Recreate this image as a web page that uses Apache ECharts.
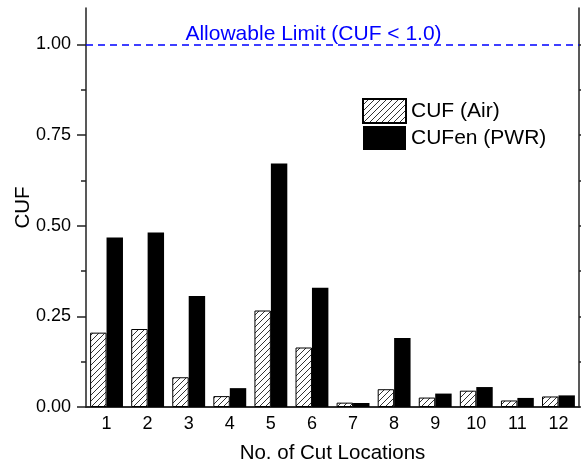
<!DOCTYPE html>
<html>
<head>
<meta charset="utf-8">
<script src="https://cdn.jsdelivr.net/npm/echarts@6/dist/echarts.min.js"></script>
<style>
html,body{margin:0;padding:0;background:#fff;}
#chart{width:581px;height:464px;}
</style>
</head>
<body>
<div id="chart"></div>
<script>
// ---- data ----
const categories = ['1','2','3','4','5','6','7','8','9','10','11','12'];
const cufAir = [0.205, 0.215, 0.082, 0.030, 0.266, 0.164, 0.012, 0.049, 0.026, 0.045, 0.018, 0.029];
const cufEnPwr = [0.467, 0.481, 0.306, 0.052, 0.671, 0.329, 0.011, 0.190, 0.037, 0.055, 0.025, 0.032];
const yMajorTicks = [0, 0.25, 0.5, 0.75, 1.0];
const yMinorTicks = [0.125, 0.375, 0.625, 0.875];
const allowableLimit = 1.0;
const limitLabel = 'Allowable Limit (CUF < 1.0)';

// ---- hatch pattern ----
function makeHatch() {
  const s = 6;
  const c = document.createElement('canvas');
  c.width = s; c.height = s;
  const ctx = c.getContext('2d');
  ctx.fillStyle = '#fff';
  ctx.fillRect(0, 0, s, s);
  ctx.strokeStyle = '#333';
  ctx.lineWidth = 1;
  ctx.beginPath();
  ctx.moveTo(0, s); ctx.lineTo(s, 0);
  ctx.moveTo(-1, 1); ctx.lineTo(1, -1);
  ctx.moveTo(s - 1, s + 1); ctx.lineTo(s + 1, s - 1);
  ctx.stroke();
  return c;
}
const hatch = { image: makeHatch(), repeat: 'repeat' };

const FONT = 'Liberation Sans, Arial, sans-serif';
const frame = { color: '#222', width: 1.5 };

const chart = echarts.init(document.getElementById('chart'), null, { renderer: 'canvas' });
const yBase = { type: 'value', min: 0, max: 1.1, splitLine: { show: false } };

chart.setOption({
  animation: false,
  backgroundColor: '#fff',
  textStyle: { fontFamily: FONT },
  grid: { left: 86, right: 2, top: 8, bottom: 57, containLabel: false, outerBoundsMode: 'none' },
  legend: {
    orient: 'vertical', left: 362, top: 98, padding: 0,
    itemWidth: 43, itemHeight: 24, itemGap: 2,
    icon: 'rect',
    textStyle: { fontSize: 21, color: '#000', fontFamily: FONT },
    data: ['CUF (Air)', 'CUFen (PWR)']
  },
  xAxis: [
    {
      type: 'category', data: categories, position: 'bottom',
      axisLine: { lineStyle: frame },
      axisTick: { show: false },
      axisLabel: { fontSize: 18, color: '#000', margin: 8, fontFamily: FONT },
      name: 'No. of Cut Locations', nameLocation: 'middle', nameGap: 36, nameMoveOverlap: false,
      nameTextStyle: { fontSize: 20.5, color: '#000', fontFamily: FONT }
    },
    {
      type: 'category', data: categories, position: 'top',
      axisLine: { lineStyle: frame },
      axisTick: { show: false }, axisLabel: { show: false }
    }
  ],
  yAxis: [
    Object.assign({}, yBase, {
      position: 'left',
      axisLine: { show: true, lineStyle: frame },
      axisTick: { show: true, customValues: yMajorTicks, length: 9, lineStyle: frame },
      axisLabel: { customValues: yMajorTicks, formatter: v => v.toFixed(2), margin: 15, fontSize: 18, color: '#000', fontFamily: FONT },
      name: 'CUF', nameLocation: 'middle', nameGap: 52, nameMoveOverlap: false,
      nameTextStyle: { fontSize: 20.5, color: '#000', fontFamily: FONT }
    }),
    Object.assign({}, yBase, {
      position: 'left',
      axisLine: { show: false },
      axisTick: { show: true, customValues: yMinorTicks, length: 5, lineStyle: frame },
      axisLabel: { show: false }
    }),
    Object.assign({}, yBase, {
      position: 'right',
      axisLine: { show: true, lineStyle: frame },
      axisTick: { show: true, customValues: yMajorTicks, length: 9, lineStyle: frame },
      axisLabel: { show: false }
    }),
    Object.assign({}, yBase, {
      position: 'right',
      axisLine: { show: false },
      axisTick: { show: true, customValues: yMinorTicks, length: 5, lineStyle: frame },
      axisLabel: { show: false }
    })
  ],
  series: [
    {
      type: 'bar', name: 'CUF (Air)', data: cufAir,
      xAxisIndex: 0, yAxisIndex: 0,
      barGap: '0%', barCategoryGap: '20%',
      itemStyle: { color: hatch, borderColor: '#000', borderWidth: 1 },
      markLine: {
        silent: true, symbol: ['none', 'none'],
        lineStyle: { color: '#0000ff', type: [7, 5], width: 1.5 },
        label: {
          show: true, position: 'insideMiddleTop', distance: 0, offset: [-19, 0],
          formatter: limitLabel, color: '#0000ff', fontSize: 21, fontFamily: FONT
        },
        data: [{ yAxis: allowableLimit }]
      }
    },
    {
      type: 'bar', name: 'CUFen (PWR)', data: cufEnPwr,
      xAxisIndex: 0, yAxisIndex: 0,
      barGap: '0%', barCategoryGap: '20%',
      itemStyle: { color: '#000' }
    }
  ]
});
</script>
</body>
</html>
